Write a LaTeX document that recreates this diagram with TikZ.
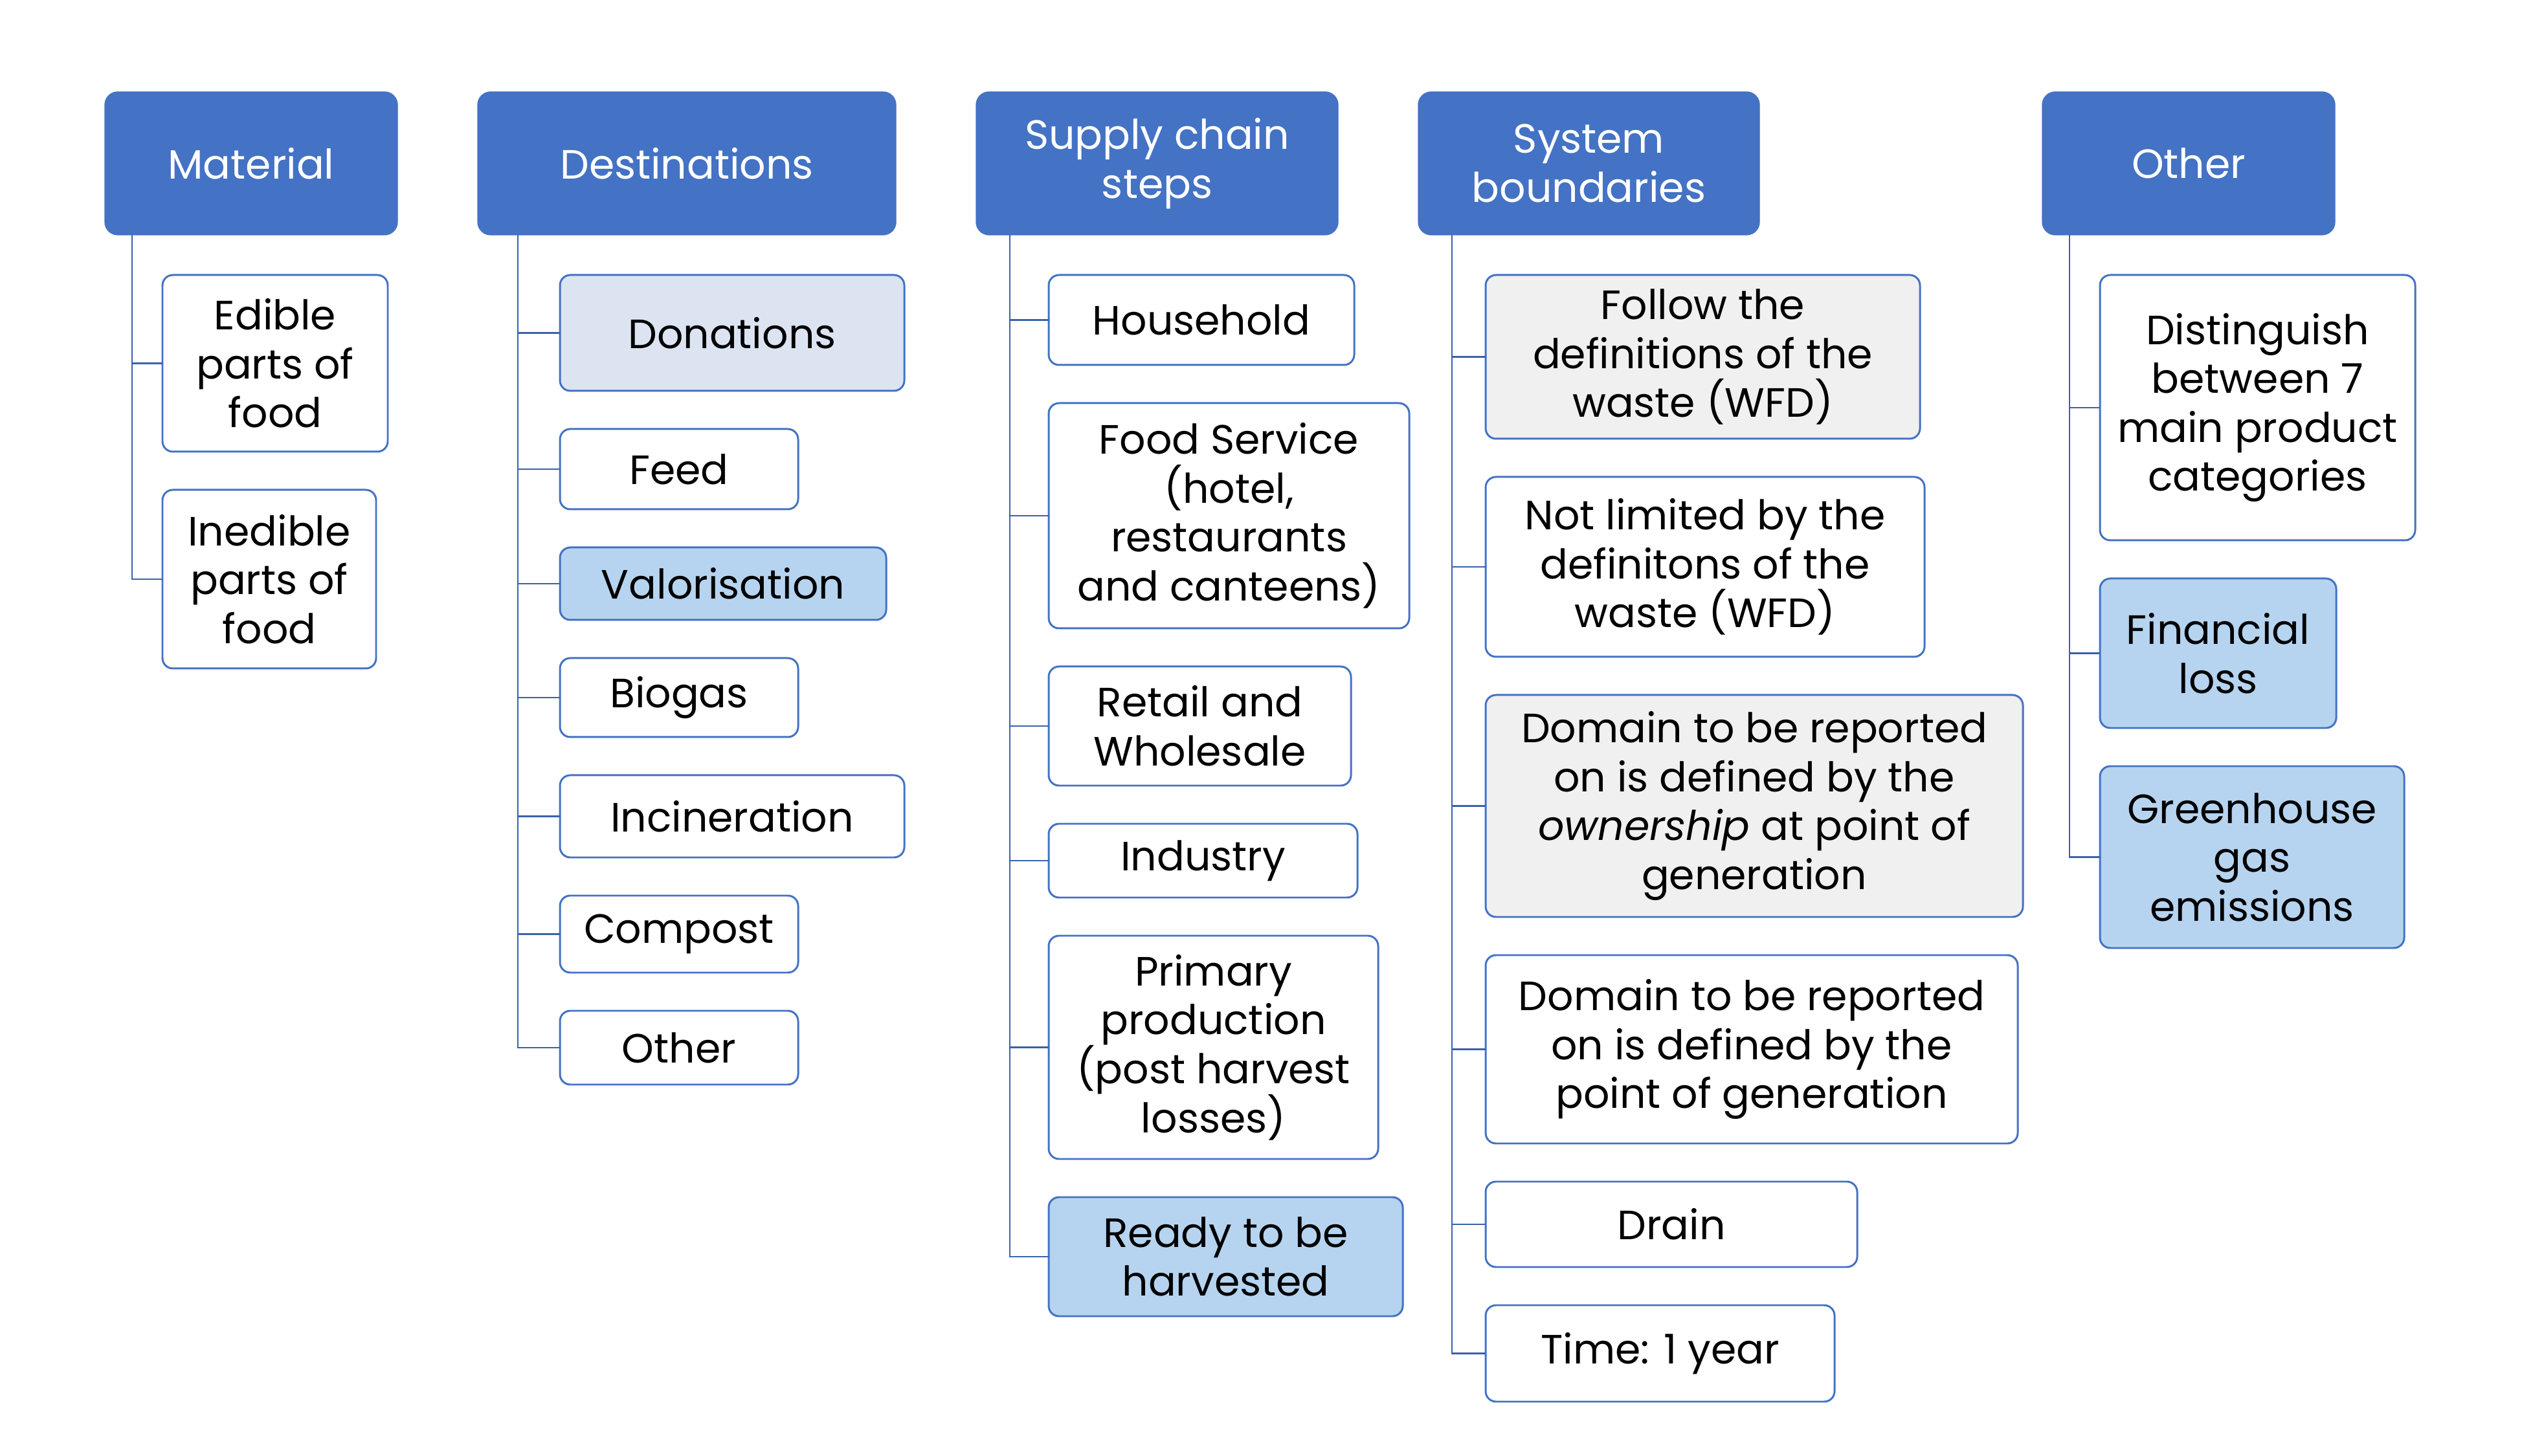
\documentclass[tikz,border=0pt]{standalone}
\usepackage{fontspec}
\setmainfont{Poppins}
\usepackage{xcolor}
\definecolor{cHead}{HTML}{4472C4}
\definecolor{cLine}{HTML}{3B62AA}
\definecolor{cLight}{HTML}{DCE4F2}
\definecolor{cBlue}{HTML}{B6D4F0}
\definecolor{cGray}{HTML}{F0F0F0}
\usepackage{tikz}
\usetikzlibrary{positioning,calc}
\tikzset{
  node-head/.style={fill=cHead,draw=cHead,rounded corners=2mm,text=white,
    minimum height=2.21cm,align=center,inner sep=0pt,outer sep=0pt,
    font=\fontsize{18}{21.5}\selectfont},
  node-item/.style={draw=cHead,line width=0.85pt,rounded corners=1.6mm,fill=white,
    align=center,inner sep=0pt,outer sep=0pt,
    font=\fontsize{18}{21.5}\selectfont},
  node-light/.style={fill=cLight},
  node-blue/.style={fill=cBlue},
  node-gray/.style={fill=cGray},
  branch/.style={draw=cLine,line width=0.8pt},
}

\begin{document}
\begin{tikzpicture}[node distance=0.59cm]
  \useasboundingbox (0,0) rectangle (38.96,-22.5);
  % headers
  \node[node-head,minimum width=4.52cm,anchor=north west] (mat) at (1.62,-1.42) {Material};
  \node[node-head,minimum width=6.46cm,right=1.24cm of mat] (dest) {Destinations};
  \node[node-head,minimum width=5.59cm,right=1.24cm of dest] (sup) {Supply chain\\steps};
  \node[node-head,minimum width=5.27cm,right=1.24cm of sup] (sys) {System\\boundaries};
  \node[node-head,minimum width=4.52cm,right=4.37cm of sys] (oth) {Other};

  % material
  \node[node-item,minimum width=3.48cm,minimum height=2.73cm,
    below=0.62cm of mat.south west,anchor=north west,xshift=0.89cm] (mat1) {Edible\\parts of\\food};
  \node[node-item,minimum width=3.30cm,minimum height=2.76cm,
    below=of mat1.south west,anchor=north west] (mat2) {Inedible\\parts of\\food};

  % destinations
  \node[node-item,node-light,minimum width=5.32cm,minimum height=1.79cm,
    below=0.62cm of dest.south west,anchor=north west,xshift=1.27cm] (dest1) {Donations};
  \node[node-item,minimum width=3.68cm,minimum height=1.24cm,
    below=of dest1.south west,anchor=north west] (dest2) {Feed};
  \node[node-item,node-blue,minimum width=5.04cm,minimum height=1.12cm,
    below=of dest2.south west,anchor=north west] (dest3) {Valorisation};
  \node[node-item,minimum width=3.68cm,minimum height=1.22cm,
    below=of dest3.south west,anchor=north west] (dest4) {Biogas};
  \node[node-item,minimum width=5.32cm,minimum height=1.27cm,
    below=of dest4.south west,anchor=north west] (dest5) {Incineration};
  \node[node-item,minimum width=3.68cm,minimum height=1.19cm,
    below=of dest5.south west,anchor=north west] (dest6) {Compost};
  \node[node-item,minimum width=3.68cm,minimum height=1.14cm,
    below=of dest6.south west,anchor=north west] (dest7) {Other};

  % supply chain steps
  \node[node-item,minimum width=4.72cm,minimum height=1.39cm,
    below=0.62cm of sup.south west,anchor=north west,xshift=1.12cm] (sup1) {Household};
  \node[node-item,minimum width=5.57cm,minimum height=3.48cm,
    below=of sup1.south west,anchor=north west] (sup2) {Food Service\\(hotel,\\restaurants\\and canteens)};
  \node[node-item,minimum width=4.67cm,minimum height=1.84cm,
    below=of sup2.south west,anchor=north west] (sup3) {Retail and\\Wholesale};
  \node[node-item,minimum width=4.77cm,minimum height=1.14cm,
    below=of sup3.south west,anchor=north west] (sup4) {Industry};
  \node[node-item,minimum width=5.09cm,minimum height=3.45cm,
    below=of sup4.south west,anchor=north west] (sup5) {Primary\\production\\(post harvest\\losses)};
  \node[node-item,node-blue,minimum width=5.47cm,minimum height=1.84cm,
    below=of sup5.south west,anchor=north west] (sup6) {Ready to be\\harvested};

  % system boundaries
  \node[node-item,node-gray,minimum width=6.71cm,minimum height=2.53cm,
    below=0.62cm of sys.south west,anchor=north west,xshift=1.04cm] (sys1) {Follow the\\definitions of the\\waste (WFD)};
  \node[node-item,minimum width=6.78cm,minimum height=2.78cm,
    below=of sys1.south west,anchor=north west] (sys2) {Not limited by the\\definitons of the\\waste (WFD)};
  \node[node-item,node-gray,minimum width=8.30cm,minimum height=3.43cm,
    below=of sys2.south west,anchor=north west] (sys3) {Domain to be reported\\on is defined by the\\\emph{ownership} at point of\\generation};
  \node[node-item,minimum width=8.22cm,minimum height=2.91cm,
    below=of sys3.south west,anchor=north west] (sys4) {Domain to be reported\\on is defined by the\\point of generation};
  \node[node-item,minimum width=5.74cm,minimum height=1.32cm,
    below=of sys4.south west,anchor=north west] (sys5) {Drain};
  \node[node-item,minimum width=5.39cm,minimum height=1.49cm,
    below=of sys5.south west,anchor=north west] (sys6) {Time: 1 year};

  % other
  \node[node-item,minimum width=4.87cm,minimum height=4.10cm,
    below=0.62cm of oth.south west,anchor=north west,xshift=0.89cm] (oth1) {Distinguish\\between 7\\main product\\categories};
  \node[node-item,node-blue,minimum width=3.65cm,minimum height=2.31cm,
    below=of oth1.south west,anchor=north west] (oth2) {Financial\\loss};
  \node[node-item,node-blue,minimum width=4.70cm,minimum height=2.81cm,
    below=of oth2.south west,anchor=north west] (oth3) {Greenhouse\\gas\\emissions};

  % tree lines
  \coordinate (matL) at ([xshift=0.42cm]mat.south west);
  \coordinate (destL) at ([xshift=0.62cm]dest.south west);
  \coordinate (supL) at ([xshift=0.52cm]sup.south west);
  \coordinate (sysL) at ([xshift=0.52cm]sys.south west);
  \coordinate (othL) at ([xshift=0.42cm]oth.south west);
  \draw[branch] (matL) |- (mat2.west);
  \draw[branch] (matL |- mat1.west) -- (mat1.west);
  \draw[branch] (destL) |- (dest7.west);
  \foreach \i in {1,...,6}
    \draw[branch] (destL |- dest\i.west) -- (dest\i.west);
  \draw[branch] (supL) |- (sup6.west);
  \foreach \i in {1,...,5}
    \draw[branch] (supL |- sup\i.west) -- (sup\i.west);
  \draw[branch] (sysL) |- (sys6.west);
  \foreach \i in {1,...,5}
    \draw[branch] (sysL |- sys\i.west) -- (sys\i.west);
  \draw[branch] (othL) |- (oth3.west);
  \foreach \i in {1,2}
    \draw[branch] (othL |- oth\i.west) -- (oth\i.west);
\end{tikzpicture}
\end{document}
